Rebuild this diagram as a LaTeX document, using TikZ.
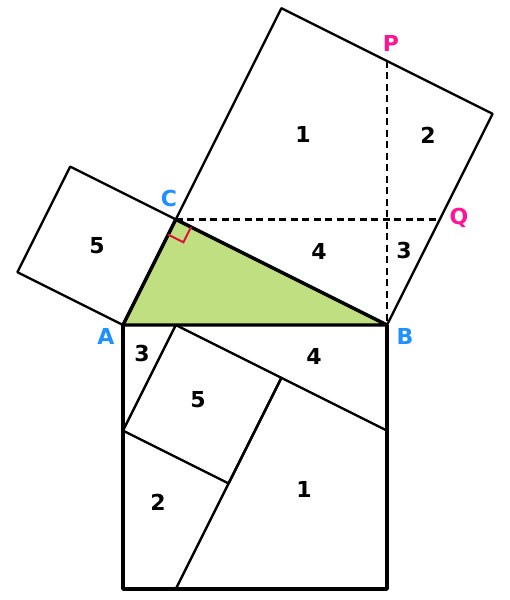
\documentclass[tikz,border=0pt]{standalone}
\usepackage{fontspec}
\setmainfont{DejaVu Sans}
\usetikzlibrary{calc}
\definecolor{tri}{RGB}{192,223,128}
\definecolor{vblue}{RGB}{30,144,255}
\definecolor{vpink}{RGB}{255,20,147}
\definecolor{vred}{RGB}{220,20,60}
\tikzset{
  thinline/.style={line width=2.4pt, line join=round},
  thickline/.style={line width=3.4pt, line join=round},
  dashline/.style={line width=2.2pt, dash pattern=on 7pt off 4.5pt},
  num/.style={font=\fontsize{22}{26}\selectfont\bfseries, text=black, inner sep=0pt},
  vlab/.style={font=\fontsize{22}{26}\selectfont\bfseries, text=vblue, inner sep=0pt},
  plab/.style={font=\fontsize{22}{26}\selectfont\bfseries, text=vpink, inner sep=0pt},
}
\begin{document}
\begin{tikzpicture}[x=1pt,y=-1pt]
\useasboundingbox (0,0) rectangle (510,600);
% main points
\coordinate (A) at (123,325);
\coordinate (B) at (387,325);
\coordinate (C) at (175.8,219.4);
% square on BC
\coordinate (C2) at (281.4,8.2);
\coordinate (B2) at (492.6,113.8);
\coordinate (P) at (387,60.6);
\coordinate (Q) at (439.8,219.4);
% square on AC
\coordinate (C3) at (70.2,166.6);
\coordinate (A3) at (17.4,272.2);
% square on AB
\coordinate (B4) at (387,589);
\coordinate (A4) at (123,589);
\coordinate (S1) at (175.8,325);
\coordinate (S2) at (281.4,377.8);
\coordinate (S3) at (228.6,483.4);
\coordinate (S4) at (123,430.6);
\coordinate (R1) at (387,430.6);
\coordinate (R2) at (175.8,589);

% triangle fill
\fill[tri] (A) -- (B) -- (C) -- cycle;

% square on BC
\draw[thinline] (C) -- (C2) -- (B2) -- (B);
% square on AC
\draw[thinline] (C) -- (C3) -- (A3) -- (A);
% dashed
\draw[dashline] (P) -- (B);
\draw[dashline] (C) -- (Q);

% lower dissection
\draw[thinline] (S1) -- (S2) -- (S3) -- (S4) -- cycle;
\draw[thinline] (S2) -- (R1);
\draw[thinline] (S2) -- (R2);

% lower square
\draw[thickline] (A) -- (A4) -- (B4) -- (B);
% triangle
\draw[thickline] (A) -- (B) -- (C) -- cycle;

% right angle mark
\draw[vred, line width=2pt]
  ($(C)!17pt!(A)$) -- ($(C)!17pt!(A)+(C)!17pt!(B)-(C)$) -- ($(C)!17pt!(B)$);

% vertex labels
\node[vlab] (lA) at (106,336) {A};
\node[vlab] (lB) at (405,336) {B};
\node[vlab] (lC) at (169,198) {C};
\node[plab] (lP) at (391,43) {P};
\node[plab] (lQ) at (459,218) {Q};

% numbers
\node[num] (n1a) at (303,134) {1};
\node[num] (n2a) at (428,135) {2};
\node[num] (n5a) at (97,246) {5};
\node[num] (n4a) at (319,251) {4};
\node[num] (n3a) at (404,250) {3};
\node[num] (n3b) at (142,353) {3};
\node[num] (n4b) at (314,356) {4};
\node[num] (n5b) at (198,400) {5};
\node[num] (n1b) at (304,489) {1};
\node[num] (n2b) at (158,502) {2};
\end{tikzpicture}
\end{document}
